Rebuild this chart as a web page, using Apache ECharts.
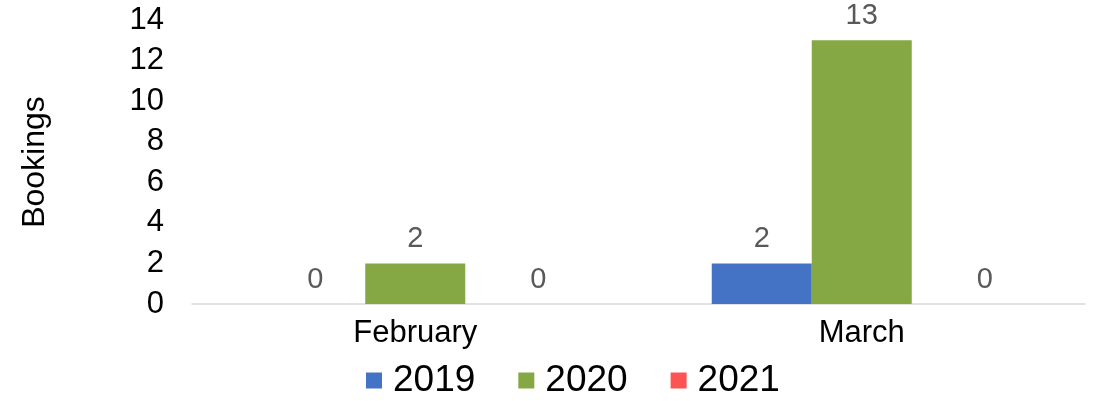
<!DOCTYPE html>
<html><head><meta charset="utf-8">
<script src="https://cdn.jsdelivr.net/npm/echarts@6/dist/echarts.min.js"></script>
<style>html,body{margin:0;padding:0;background:#fff}#c{width:1102px;height:401px}</style>
</head><body><div id="c"></div>
<script>
const categories = ['February', 'March'];
const seriesNames = ['2019', '2020', '2021'];
const values2019 = [0, 2];
const values2020 = [2, 13];
const values2021 = [0, 0];
const colors = ['#4472C4', '#85A845', '#FF5252'];
const yTicks = [0, 2, 4, 6, 8, 10, 12, 14];

const font = 'Liberation Sans, Arial, sans-serif';
const allValues = [values2019, values2020, values2021];
const labelOffsets = [[0, 0], [0, 0], [23, 0]];
const chart = echarts.init(document.getElementById('c'));
chart.setOption({
  animation: false,
  grid: { left: 192, right: 17, top: 20, bottom: 97 },
  legend: {
    left: 366, top: 362, padding: 0, itemWidth: 16, itemHeight: 16, itemGap: 43,
    icon: 'rect',
    textStyle: { fontFamily: font, fontSize: 37, color: '#000', padding: [0, 0, 0, 6] },
    data: seriesNames
  },
  xAxis: {
    type: 'category', data: categories,
    axisLine: { lineStyle: { color: '#D9D9D9', width: 1.5 } },
    axisTick: { show: false },
    axisLabel: { fontFamily: font, fontSize: 31, color: '#000', margin: 14 }
  },
  yAxis: {
    type: 'value', min: yTicks[0], max: yTicks[yTicks.length - 1], interval: 2,
    name: 'Bookings', nameLocation: 'middle', nameGap: 141, nameRotate: 90,
    nameTextStyle: { fontFamily: font, fontSize: 32, color: '#000' },
    axisLine: { show: false }, axisTick: { show: false },
    splitLine: { show: false },
    axisLabel: { fontFamily: font, fontSize: 31, color: '#000', margin: 28 }
  },
  series: seriesNames.map((n, i) => ({
    name: n, type: 'bar', data: allValues[i], barWidth: 100, barGap: '0%',
    itemStyle: { color: colors[i] },
    label: { show: true, position: 'top', distance: 10, offset: labelOffsets[i], fontFamily: font, fontSize: 29, color: '#595959' }
  }))
});
</script></body></html>
